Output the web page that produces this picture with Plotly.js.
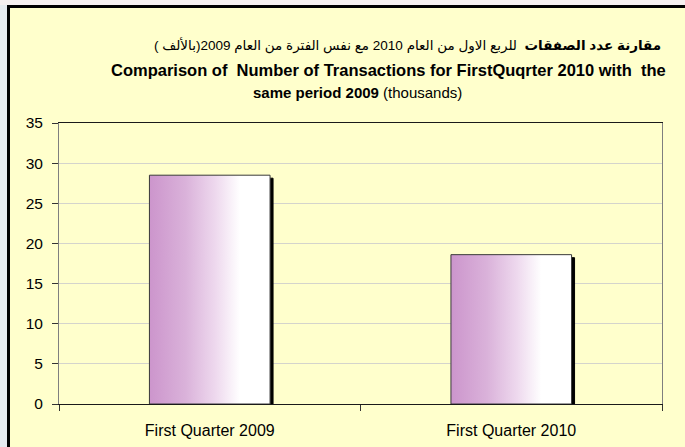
<!DOCTYPE html>
<html>
<head>
<meta charset="utf-8">
<script src="https://cdn.plot.ly/plotly-3.0.1.min.js"></script>
<style>
html,body{margin:0;padding:0;background:#E9EDF1;}
#chart{width:685px;height:447px;}
</style>
</head>
<body>
<div id="chart"></div>
<script>
// ---- data ----
const categories = ["First Quarter 2009", "First Quarter 2010"];
const transactions = [28.5, 18.6];
const yTickValues = [0, 5, 10, 15, 20, 25, 30, 35];
const titleArabic = "<b>مقارنة عدد الصفقات</b>  للربع الاول من العام 2010 مع نفس الفترة من العام 2009(بالألف )";
const titleLine2 = "<b>Comparison of  Number of Transactions for FirstQuqrter 2010 with  the</b>";
const titleLine3 = "<b>same period 2009</b> (thousands)";

// ---- layout helpers (pixel -> paper) ----
const L = 59, R = 23, T = 123, B = 43, W = 685, H = 447;
const pw = W - L - R, ph = H - T - B;
const px = x => (x - L) / pw;
const py = y => (H - B - y) / ph;

const FONT = "Arial, 'Liberation Sans', 'DejaVu Sans', sans-serif";

const trace = {
  type: "bar",
  x: categories,
  y: transactions,
  marker: { color: "#CC99CC", line: { color: "#3a3a3a", width: 1 } },
  hoverinfo: "x+y",
  showlegend: false
};

const layout = {
  width: W, height: H,
  margin: { l: L, r: R, t: T, b: B },
  paper_bgcolor: "#E9EDF1",
  plot_bgcolor: "#FFFFCC",
  bargap: 0.6,
  font: { family: FONT, color: "#000" },
  xaxis: {
    type: "category",
    showline: true, linecolor: "#1a1a1a", linewidth: 1, mirror: true,
    ticks: "outside", tickson: "boundaries", ticklen: 6, tickcolor: "#333",
    ticklabelstandoff: 12,
    tickfont: { size: 16, family: FONT, color: "#000" },
    showgrid: false, zeroline: false, fixedrange: true
  },
  yaxis: {
    range: [0, 35], tickvals: yTickValues,
    showline: true, linecolor: "#7f7f7f", linewidth: 1, mirror: true,
    ticks: "outside", ticklen: 6, tickcolor: "#333",
    ticklabelstandoff: 6,
    tickfont: { size: 15.5, family: FONT, color: "#000" },
    showgrid: true, gridcolor: "#D4D4CC", gridwidth: 1,
    zeroline: false, fixedrange: true
  },
  yaxis2: {
    overlaying: "y", range: [0, 35], tickvals: yTickValues,
    ticks: "inside", ticklen: 4, tickcolor: "#333",
    showticklabels: false, showgrid: false, zeroline: false,
    showline: false, fixedrange: true
  },
  shapes: [
    { type: "rect", xref: "paper", yref: "paper", layer: "below",
      x0: px(-5), x1: px(700), y0: py(440), y1: py(-10),
      fillcolor: "#F6F0F0", line: { width: 0 } },
    { type: "rect", xref: "paper", yref: "paper", layer: "below",
      x0: px(8.5), x1: px(700), y0: py(470), y1: py(6.5),
      fillcolor: "#FFFFCC", line: { color: "#000", width: 3 } },
    { type: "rect", xref: "paper", yref: "paper", layer: "below",
      x0: px(-5), x1: px(7), y0: py(470), y1: py(5),
      fillcolor: "#E6EBEF", line: { width: 0 } }
  ],
  annotations: [
    { text: titleArabic, xref: "paper", yref: "paper", x: px(407), y: py(45),
      xanchor: "center", yanchor: "middle", showarrow: false,
      font: { size: 13.5, family: FONT, color: "#000" } },
    { text: titleLine2, xref: "paper", yref: "paper", x: px(388), y: py(70),
      xanchor: "center", yanchor: "middle", showarrow: false,
      font: { size: 16.5, family: FONT, color: "#000" } },
    { text: titleLine3, xref: "paper", yref: "paper", x: px(357), y: py(93),
      xanchor: "center", yanchor: "middle", showarrow: false,
      font: { size: 15, family: FONT, color: "#000" } }
  ]
};

Plotly.newPlot("chart", [trace], layout, { displayModeBar: false, staticPlot: true }).then(gd => {
  const svg = gd.querySelector("svg.main-svg");
  const NS = "http://www.w3.org/2000/svg";
  let defs = svg.querySelector("defs");
  if (!defs) { defs = document.createElementNS(NS, "defs"); svg.insertBefore(defs, svg.firstChild); }
  const grad = document.createElementNS(NS, "linearGradient");
  grad.setAttribute("id", "barGrad");
  grad.setAttribute("x1", "0"); grad.setAttribute("x2", "1");
  grad.setAttribute("y1", "0"); grad.setAttribute("y2", "0");
  [["0", "#CC95CC"], ["0.3", "#DAB2DA"], ["0.55", "#EED9EE"], ["0.75", "#FFFFFF"], ["1", "#FFFFFF"]]
    .forEach(([o, c]) => {
      const s = document.createElementNS(NS, "stop");
      s.setAttribute("offset", o); s.setAttribute("stop-color", c);
      grad.appendChild(s);
    });
  defs.appendChild(grad);
  const filt = document.createElementNS(NS, "filter");
  filt.setAttribute("id", "barShadow");
  filt.setAttribute("x", "-10%"); filt.setAttribute("y", "-10%");
  filt.setAttribute("width", "130%"); filt.setAttribute("height", "130%");
  const ds = document.createElementNS(NS, "feDropShadow");
  ds.setAttribute("dx", "3"); ds.setAttribute("dy", "3");
  ds.setAttribute("stdDeviation", "0.4");
  ds.setAttribute("flood-color", "#000"); ds.setAttribute("flood-opacity", "1");
  filt.appendChild(ds);
  defs.appendChild(filt);
  gd.querySelectorAll(".trace.bars .point path").forEach(p => {
    p.style.fill = "url(#barGrad)";
    p.setAttribute("filter", "url(#barShadow)");
  });
});
</script>
</body>
</html>
